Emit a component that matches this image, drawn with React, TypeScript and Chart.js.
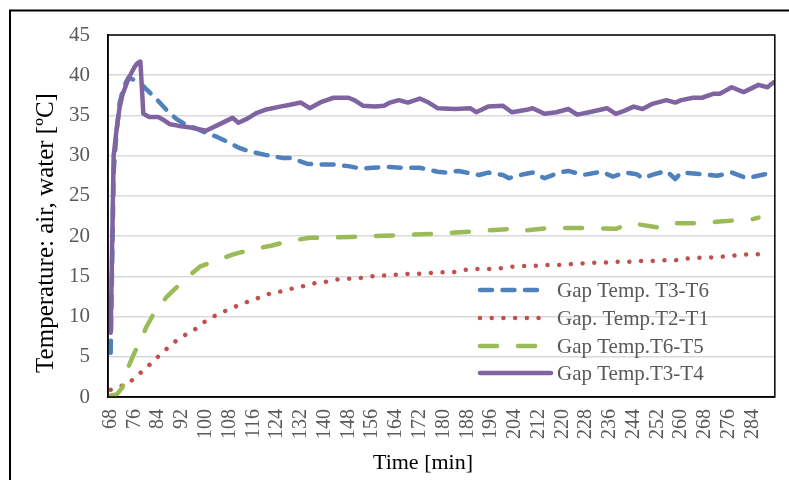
import React, { useEffect, useRef } from "react";
import { Chart, registerables } from "chart.js";

Chart.register(...registerables);

const FONT = '"Liberation Serif", "Times New Roman", serif';

// ---------- data ----------
const xTickLabels = [68, 76, 84, 92, 100, 108, 116, 124, 132, 140, 148, 156, 164, 172, 180, 188, 196, 204, 212, 220, 228, 236, 244, 252, 260, 268, 276, 284];
const yTickStep = 5;
const yMin = 0;
const yMax = 45;

const xTitle = "Time [min]";
const yTitle = "Temperature: air, water [ºC]";

const seriesNames = ["Gap Temp. T3-T6", "Gap. Temp.T2-T1", "Gap Temp.T6-T5", "Gap Temp.T3-T4"];

// Gap Temp. T3-T6 (blue, dashed)
const blueTimes = [68, 69, 70, 71, 72, 73, 74, 76, 78, 81, 84, 87, 90, 93, 96, 101, 104, 108, 111, 115, 120, 126, 129, 131, 134, 138, 143, 148, 152, 156, 162, 166, 172, 178, 181, 185, 192, 195, 200, 202, 207, 210, 214, 219, 222, 227, 233, 237, 241, 245, 247, 251, 255, 258, 260, 267, 272, 277, 282, 287, 291];
const blueValues = [5.5, 28, 33, 36.5, 38, 39, 39.7, 39.4, 39.0, 37.9, 36.8, 35.6, 34.6, 33.9, 33.5, 32.7, 32.3, 31.6, 31.0, 30.5, 30.1, 29.7, 29.7, 29.4, 29.0, 28.9, 28.9, 28.7, 28.4, 28.5, 28.6, 28.5, 28.5, 28.0, 27.9, 28.1, 27.6, 27.9, 27.6, 27.2, 27.7, 27.9, 27.2, 27.9, 28.1, 27.6, 28.0, 27.4, 27.9, 27.7, 27.2, 27.7, 28.1, 27.1, 27.9, 27.7, 27.5, 27.9, 27.2, 27.6, 27.9];

// Gap. Temp.T2-T1 (red, dotted)
const redTimes = [68, 74, 77, 80, 83, 86, 89, 92, 96, 99, 102, 106, 109, 113, 117, 120, 125, 128, 132, 136, 140, 144, 148, 152, 156, 160, 164, 168, 171, 175, 179, 183, 187, 191, 195, 199, 203, 207, 211, 215, 218, 222, 227, 230, 234, 238, 242, 246, 250, 254, 258, 262, 266, 268, 272, 276, 280, 284, 288];
const redValues = [0.9, 1.7, 2.7, 3.6, 4.7, 5.7, 6.7, 7.5, 8.3, 9.2, 9.9, 10.6, 11.1, 11.7, 12.2, 12.7, 13.1, 13.4, 13.7, 14.1, 14.3, 14.6, 14.7, 14.8, 15.0, 15.1, 15.2, 15.3, 15.3, 15.4, 15.5, 15.5, 15.8, 15.9, 15.9, 16.0, 16.2, 16.3, 16.3, 16.4, 16.4, 16.5, 16.6, 16.7, 16.7, 16.8, 16.8, 16.9, 16.9, 17.0, 17.0, 17.2, 17.3, 17.3, 17.4, 17.5, 17.7, 17.7, 17.8];

// Gap Temp.T6-T5 (green, long dash)
const greenTimes = [68, 70, 72, 74, 76, 78, 80, 83, 87, 92, 98, 103, 109, 116, 122, 127, 135, 140, 149, 164, 178, 191, 203, 205, 215, 228, 238, 243, 252, 255, 268, 272, 284, 286];
const greenValues = [0.2, 0.3, 1.2, 3.8, 5.5, 7.0, 8.7, 10.7, 12.5, 14.3, 16.2, 16.9, 17.7, 18.4, 18.8, 19.3, 19.8, 19.8, 19.9, 20.1, 20.3, 20.6, 20.9, 20.6, 21.0, 21.0, 20.9, 21.6, 21.1, 21.6, 21.6, 21.8, 22.1, 22.3];

// Gap Temp.T3-T4 (purple, solid)
const purpleTimes = [68, 69, 70, 71, 72, 73, 74, 75, 76, 77, 78, 79, 81, 84, 86, 88, 91, 95, 100, 104, 109, 111, 114, 117, 120, 125, 128, 132, 135, 139, 143, 148, 150, 153, 157, 160, 162, 165, 168, 172, 175, 178, 184, 189, 191, 195, 200, 203, 208, 210, 214, 218, 222, 225, 229, 235, 238, 241, 244, 247, 250, 255, 258, 260, 264, 267, 271, 273, 277, 281, 286, 289, 291];
const purpleValues = [8, 30, 33.3, 36, 37.6, 38.6, 39.6, 40.3, 41, 41.5, 41.7, 35.2, 34.8, 34.8, 34.4, 33.9, 33.7, 33.5, 33.1, 33.8, 34.7, 34.1, 34.6, 35.3, 35.7, 36.1, 36.3, 36.6, 35.9, 36.7, 37.2, 37.2, 36.9, 36.2, 36.1, 36.2, 36.6, 36.9, 36.6, 37.1, 36.6, 35.9, 35.8, 35.9, 35.4, 36.1, 36.2, 35.4, 35.7, 35.9, 35.2, 35.4, 35.8, 35.1, 35.4, 35.9, 35.2, 35.6, 36.1, 35.8, 36.4, 36.9, 36.6, 36.9, 37.2, 37.2, 37.7, 37.7, 38.5, 37.9, 38.8, 38.5, 39.1];

const seriesColors = ["#4F81BD", "#C0504D", "#9BBB59", "#8064A2"];
const seriesDashes = [[12, 10.5], [0.01, 11.7], [17, 21], []];

const toPoints = (xs: number[], ys: number[]) => xs.map((x, i) => ({ x, y: ys[i] }));

const decorPlugin = {
  id: "decor",
  beforeDraw(chart: any) {
    const { ctx, width, height } = chart;
    ctx.save();
    ctx.fillStyle = "#ffffff";
    ctx.fillRect(0, 0, width, height);
    ctx.restore();
  },
  afterDraw(chart: any) {
    const { ctx, chartArea: a } = chart;
    ctx.save();
    // plot frame
    ctx.strokeStyle = "#000";
    ctx.lineWidth = 1.5;
    ctx.strokeRect(a.left, a.top, a.right - a.left, a.bottom - a.top);
    // outer frame
    ctx.lineWidth = 2;
    ctx.beginPath();
    ctx.moveTo(10, 480);
    ctx.lineTo(10, 10.5);
    ctx.lineTo(789, 10.5);
    ctx.stroke();
    // axis titles
    ctx.fillStyle = "#000";
    ctx.textAlign = "center";
    ctx.textBaseline = "middle";
    ctx.font = `25px ${FONT}`;
    ctx.save();
    ctx.translate(46, 233);
    ctx.rotate(-Math.PI / 2);
    ctx.fillText(yTitle, 0, 0);
    ctx.restore();
    ctx.font = `22px ${FONT}`;
    ctx.fillText(xTitle, 423, 463);
    // legend inside plot
    const rows = [290, 318, 346, 373];
    const order = [0, 1, 2, 3];
    order.forEach((di, r) => {
      const ds = chart.data.datasets[di];
      const y = rows[r];
      ctx.save();
      ctx.strokeStyle = ds.borderColor;
      ctx.lineWidth = ds.borderWidth;
      ctx.lineCap = "round";
      ctx.setLineDash(ds.borderDash || []);
      ctx.beginPath();
      ctx.moveTo(480, y);
      ctx.lineTo(di === 3 ? 551 : 543, y);
      ctx.stroke();
      ctx.restore();
      ctx.fillStyle = "#595959";
      ctx.textAlign = "left";
      ctx.textBaseline = "middle";
      ctx.font = `21px ${FONT}`;
      ctx.fillText(ds.label, 557, y + 1);
    });
    ctx.restore();
  },
};

export default function App() {
  const ref = useRef<HTMLCanvasElement | null>(null);

  useEffect(() => {
    if (!ref.current) return;
    const xsList = [blueTimes, redTimes, greenTimes, purpleTimes];
    const ysList = [blueValues, redValues, greenValues, purpleValues];
    const chart = new Chart(ref.current, {
      type: "line",
      data: {
        datasets: seriesNames.map((name, i) => ({
          label: name,
          data: toPoints(xsList[i], ysList[i]),
          borderColor: seriesColors[i],
          backgroundColor: seriesColors[i],
          borderWidth: 4.5,
          borderDash: seriesDashes[i],
          borderCapStyle: "round",
          borderJoinStyle: "round",
          pointRadius: 0,
          tension: 0,
          fill: false,
          order: 3 - i,
        })),
      },
      options: {
        responsive: false,
        animation: false,
        events: [],
        layout: { padding: { left: 0, top: 35, right: 14, bottom: 0 } },
        plugins: {
          legend: { display: false },
          tooltip: { enabled: false },
          title: { display: false },
        },
        scales: {
          x: {
            type: "linear",
            min: 67.1,
            max: 291.5,
            afterBuildTicks: (scale: any) => {
              scale.ticks = xTickLabels.map((v) => ({ value: v }));
            },
            afterFit: (scale: any) => {
              scale.height = 83;
            },
            grid: { display: false, drawTicks: false },
            border: { display: true, color: "#000", width: 1.5 },
            ticks: {
              autoSkip: false,
              minRotation: 90,
              maxRotation: 90,
              padding: 12,
              color: "#595959",
              font: { family: FONT, size: 20 },
              callback: (v: any) => String(v),
            },
          },
          y: {
            type: "linear",
            min: yMin,
            max: yMax,
            afterFit: (scale: any) => {
              scale.width = 108;
            },
            grid: { color: "#d9d9d9", lineWidth: 1.5, drawTicks: false },
            border: { display: true, color: "#000", width: 1.5 },
            ticks: {
              stepSize: yTickStep,
              padding: 18,
              color: "#595959",
              font: { family: FONT, size: 21 },
            },
          },
        },
      },
      plugins: [decorPlugin],
    });
    return () => chart.destroy();
  }, []);

  return (
    <div style={{ position: "fixed", left: 0, top: 0, width: 789, height: 480, background: "#fff" }}>
      <canvas ref={ref} width={789} height={480} style={{ display: "block", width: 789, height: 480 }} />
    </div>
  );
}
